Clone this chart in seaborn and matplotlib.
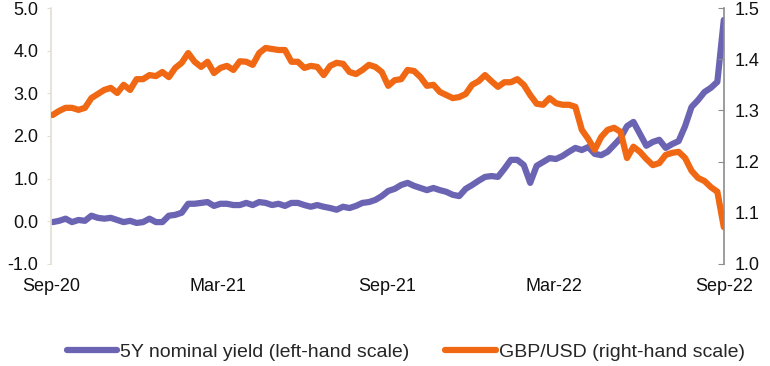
import matplotlib
matplotlib.use('Agg')
import matplotlib.pyplot as plt
import matplotlib.dates as mdates
import numpy as np
import pandas as pd
import seaborn as sns

dates = pd.date_range(end='2022-09-01', periods=105, freq='7D')

# 5Y nominal gilt yield (%), left-hand scale.
yield_5y = [-0.02, 0.01, 0.06, -0.02, 0.03, 0.01, 0.13, 0.08, 0.06, 0.08,
            0.03, -0.02, 0.01, -0.04, -0.02, 0.06, -0.02, -0.02, 0.13, 0.15,
            0.20, 0.41, 0.41, 0.43, 0.45, 0.36, 0.41, 0.41, 0.38, 0.38,
            0.43, 0.38, 0.45, 0.43, 0.38, 0.41, 0.36, 0.43, 0.43, 0.38,
            0.34, 0.38, 0.34, 0.31, 0.27, 0.34, 0.31, 0.36, 0.43, 0.45,
            0.50, 0.59, 0.71, 0.76, 0.85, 0.90, 0.83, 0.78, 0.73, 0.78,
            0.73, 0.69, 0.62, 0.59, 0.76, 0.85, 0.95, 1.04, 1.06, 1.04,
            1.23, 1.44, 1.44, 1.32, 0.90, 1.30, 1.39, 1.48, 1.46, 1.53,
            1.63, 1.72, 1.67, 1.74, 1.58, 1.55, 1.63, 1.79, 1.95, 2.23,
            2.33, 2.05, 1.77, 1.86, 1.91, 1.72, 1.81, 1.88, 2.23, 2.68,
            2.84, 3.03, 3.13, 3.27, 4.72]

# GBP/USD, right-hand scale.
gbp_usd = [1.291, 1.299, 1.305, 1.305, 1.301, 1.305, 1.324, 1.332, 1.340, 1.344,
           1.334, 1.350, 1.340, 1.361, 1.361, 1.369, 1.367, 1.375, 1.365, 1.383,
           1.393, 1.412, 1.395, 1.385, 1.395, 1.373, 1.383, 1.387, 1.379, 1.396,
           1.395, 1.389, 1.412, 1.422, 1.420, 1.418, 1.418, 1.395, 1.395, 1.383,
           1.387, 1.385, 1.369, 1.387, 1.393, 1.391, 1.375, 1.371, 1.379, 1.389,
           1.385, 1.375, 1.348, 1.359, 1.361, 1.379, 1.377, 1.365, 1.348, 1.350,
           1.336, 1.330, 1.324, 1.326, 1.332, 1.350, 1.357, 1.369, 1.357, 1.346,
           1.355, 1.355, 1.361, 1.350, 1.330, 1.313, 1.311, 1.324, 1.314, 1.311,
           1.311, 1.307, 1.262, 1.244, 1.223, 1.248, 1.262, 1.266, 1.258, 1.207,
           1.229, 1.219, 1.205, 1.193, 1.197, 1.213, 1.217, 1.219, 1.207, 1.182,
           1.168, 1.162, 1.150, 1.141, 1.072]

labels = ['5Y nominal yield (left-hand scale)', 'GBP/USD (right-hand scale)']
purple = '#6b64b3'
orange = '#f06813'

sns.set_style('white')
plt.rcParams['font.family'] = ['Liberation Sans', 'DejaVu Sans']

fig = plt.figure(figsize=(7.7, 3.66), dpi=100)
ax = fig.add_axes([0.066, 0.279, 0.874, 0.699])
ax2 = ax.twinx()

sns.lineplot(x=dates, y=yield_5y, ax=ax, color=purple, lw=4.5, label=labels[0], legend=False)
sns.lineplot(x=dates, y=gbp_usd, ax=ax2, color=orange, lw=4.5, label=labels[1], legend=False)

ax.set_ylim(-1, 5)
ax.set_yticks(np.arange(-1, 5.01, 1))
ax.yaxis.set_major_formatter(matplotlib.ticker.FormatStrFormatter('%.1f'))
ax2.set_ylim(1.0, 1.5)
ax2.set_yticks(np.arange(1.0, 1.51, 0.1))
ax2.yaxis.set_major_formatter(matplotlib.ticker.FormatStrFormatter('%.1f'))

ax.set_xlim(pd.Timestamp('2020-09-01'), pd.Timestamp('2022-09-01'))
ax.xaxis.set_major_locator(mdates.MonthLocator(bymonth=[3, 9]))
ax.xaxis.set_major_formatter(mdates.DateFormatter('%b-%y'))

for a in (ax, ax2):
    a.set_xlabel('')
    a.set_ylabel('')
    for s in ('top', 'bottom'):
        a.spines[s].set_visible(False)
    a.tick_params(axis='x', length=0, pad=10, labelsize=13, colors='#111111')
ax.spines['right'].set_visible(False)
ax.spines['left'].set_color('#e2dfd2')
ax.spines['left'].set_linewidth(1.2)
ax2.spines['left'].set_visible(False)
ax2.spines['right'].set_color('#8c8c8c')
ax2.spines['right'].set_linewidth(1.2)
ax.tick_params(axis='y', direction='out', length=3, color='#e2dfd2', labelsize=13, pad=6,
               labelcolor='#111111')
ax2.tick_params(axis='y', direction='in', length=4, color='#8c8c8c', labelsize=13, pad=8,
                labelcolor='#111111')

h1, l1 = ax.get_legend_handles_labels()
h2, l2 = ax2.get_legend_handles_labels()
fig.legend(h1 + h2, l1 + l2, loc='center', bbox_to_anchor=(0.527, 0.038), ncol=2,
           frameon=False, fontsize=14, handlelength=2.6, handletextpad=0.15,
           columnspacing=1.85)

fig.savefig('out.png', dpi=100)
